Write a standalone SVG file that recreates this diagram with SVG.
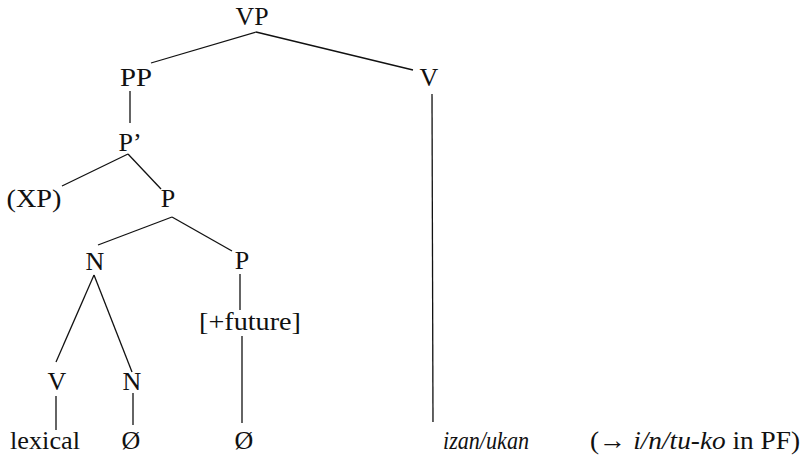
<svg xmlns="http://www.w3.org/2000/svg" width="807" height="456" viewBox="0 0 807 456">
<style>
.lbl{font-family:"Liberation Serif","Times New Roman",serif;font-size:26px;fill:#111;text-anchor:middle}
.it{font-style:italic}
.st{text-anchor:start}
.edge{stroke:#111;stroke-width:1.3;fill:none}
</style>
<rect width="807" height="456" fill="#fff"/>
<g id="edges" class="edge">
<line x1="256" y1="32" x2="151" y2="63"/>
<line x1="256" y1="32" x2="413" y2="70"/>
<line x1="130" y1="91" x2="130" y2="123"/>
<line x1="432" y1="94" x2="433" y2="422"/>
<line x1="128" y1="154" x2="62" y2="186"/>
<line x1="128" y1="154" x2="161" y2="189"/>
<line x1="172" y1="217" x2="98" y2="245"/>
<line x1="172" y1="217" x2="232" y2="251"/>
<line x1="94" y1="275" x2="56" y2="362"/>
<line x1="94" y1="275" x2="132" y2="372"/>
<line x1="240" y1="274" x2="240" y2="310"/>
<line x1="242" y1="336" x2="242" y2="423"/>
<line x1="56" y1="396" x2="56" y2="430"/>
<line x1="133" y1="393" x2="133" y2="425"/>
</g>
<g class="lbl">
<g id="n-VP"><text x="252" y="25" textLength="33" lengthAdjust="spacingAndGlyphs">VP</text></g>
<g id="n-PP"><text x="136" y="86" textLength="32" lengthAdjust="spacingAndGlyphs">PP</text></g>
<g id="n-V1"><text x="429" y="86">V</text></g>
<g id="n-Pbar"><text x="130" y="151">P’</text></g>
<g id="n-XP"><text x="34" y="207" textLength="55" lengthAdjust="spacingAndGlyphs">(XP)</text></g>
<g id="n-P1"><text x="168" y="207">P</text></g>
<g id="n-N1"><text x="95" y="270">N</text></g>
<g id="n-P2"><text x="242" y="269">P</text></g>
<g id="n-future"><text x="250" y="330" textLength="102" lengthAdjust="spacingAndGlyphs">[+future]</text></g>
<g id="n-V2"><text x="57" y="390">V</text></g>
<g id="n-N2"><text x="132" y="390">N</text></g>
<g id="n-lexical"><text x="45" y="449" textLength="70" lengthAdjust="spacingAndGlyphs">lexical</text></g>
<g id="n-null1"><text x="131" y="449">Ø</text></g>
<g id="n-null2"><text x="244" y="449">Ø</text></g>
<g id="n-izan"><text class="it" x="486" y="449" textLength="86" lengthAdjust="spacingAndGlyphs">izan/ukan</text></g>
<g id="n-pf"><text class="st" x="590" y="449" textLength="210" lengthAdjust="spacingAndGlyphs">(→ <tspan class="it">i/n/tu-ko</tspan> in PF)</text></g>
</g>
</svg>
